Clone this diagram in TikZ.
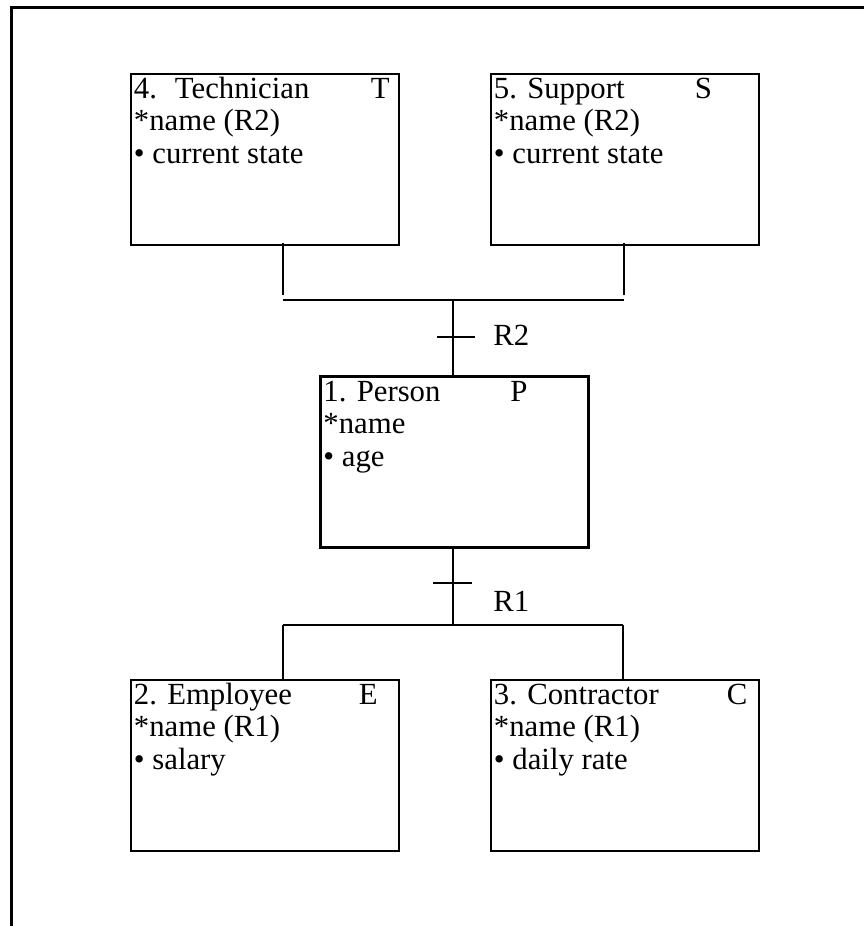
\documentclass[tikz,border=0pt]{standalone}
\usepackage{fontspec}
\setmainfont{Liberation Serif}
\usetikzlibrary{calc}
\newcommand\classfont{\fontsize{17.5pt}{21pt}\selectfont}
\tikzset{
  classbox/.style={draw,rectangle,line width=1.6pt,minimum width=5.36cm,
    minimum height=3.42cm,inner sep=0pt},
  cltext/.style={anchor=base west,inner sep=0pt,font=\classfont},
  rel/.style={line width=1.35pt}
}
\begin{document}
\begin{tikzpicture}[x=0.02cm,y=-0.02cm,line cap=butt,line join=miter]
  \useasboundingbox (0,0) rectangle (863,926);
  % page frame, runs off the right and bottom edge
  \draw[line width=1.3pt] (11.5,7.5) rectangle (880,945);
  % the five classes
  \foreach \nm/\cx/\cy/\ttl/\key/\kx/\ida/\atr in {
      tech/265/159.5/4.~ Technician/T/241/{*name (R2)}/current state,
      supp/625/159.5/5. Support/S/205/{*name (R2)}/current state,
      person/454.5/462/1. Person/P/191/{*name}/age,
      empl/265/765.5/2. Employee/E/229/{*name (R1)}/salary,
      contr/625/765.5/3. Contractor/C/237/{*name (R1)}/daily rate}
  {
    \node[classbox] (\nm) at (\cx,\cy) {};
    \node[cltext] (\nm-t) at ([shift={(4,26)}]\nm.north west) {\ttl};
    \node[cltext] (\nm-k) at ([shift={(\kx,26)}]\nm.north west) {\key};
    \node[cltext] (\nm-a) at ([shift={(4,58)}]\nm.north west) {\ida};
    \node[cltext] (\nm-b) at ([shift={(4,91)}]\nm.north west) {• \atr};
  }
  % R2: Technician and Support are subtypes of Person
  \coordinate (r2l) at (283,300);
  \coordinate (r2m) at (453,300);
  \coordinate (r2r) at (624,300);
  \coordinate (t2) at (453,337);
  \draw[rel] (r2l) -- (r2r);
  \draw[rel] ($(r2l |- tech.south)+(0,-3)$) -- ($(r2l)+(0,-5)$);
  \draw[rel] ($(r2r |- supp.south)+(0,-3)$) -- ($(r2r)+(0,-5)$);
  \draw[rel] (r2m) -- (r2m |- person.north);
  \draw[rel] ($(t2)+(-16,0)$) -- ($(t2)+(22,0)$);
  \node[cltext] (r2lab) at (493,345) {R2};
  % R1: Employee and Contractor are subtypes of Person
  \coordinate (r1l) at (283,625);
  \coordinate (r1m) at (453,625);
  \coordinate (r1r) at (623,625);
  \coordinate (t1) at (453,583);
  \draw[rel] (r1m |- person.south) -- (r1m);
  \draw[rel] (r1l) -- (r1r);
  \draw[rel] (r1l) -- (r1l |- empl.north);
  \draw[rel] (r1r) -- (r1r |- contr.north);
  \draw[rel] ($(t1)+(-20,0)$) -- ($(t1)+(19,0)$);
  \node[cltext] (r1lab) at (493,611) {R1};
\end{tikzpicture}
\end{document}
